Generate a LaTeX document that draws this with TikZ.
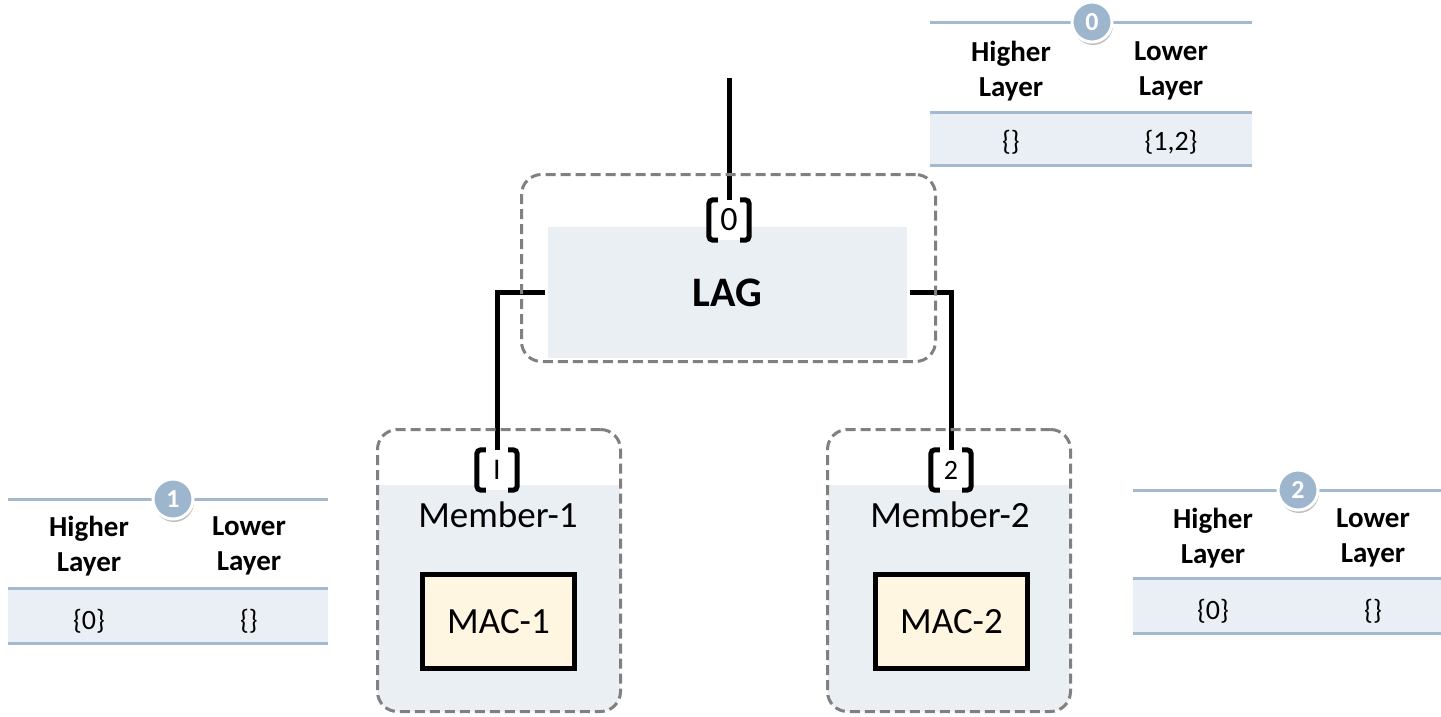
\documentclass[tikz,border=0pt]{standalone}
\usepackage{fontspec}
\setmainfont{Carlito}
\usetikzlibrary{shadows}
\definecolor{tabline}{RGB}{163,185,208}
\definecolor{rowfill}{RGB}{234,239,245}
\definecolor{boxfill}{RGB}{234,239,244}
\definecolor{macfill}{RGB}{255,246,226}
\definecolor{dashgray}{RGB}{128,128,128}
\definecolor{badgefill}{RGB}{157,181,205}
\pgfdeclarelayer{wires}
\pgfsetlayers{wires,main}
\newcommand{\portmarks}[1]{%
  \draw[bracket] ([xshift=9pt]#1.north west) -- (#1.north west) -- (#1.south west) -- ([xshift=9pt]#1.south west);
  \draw[bracket] ([xshift=-9pt]#1.north east) -- (#1.north east) -- (#1.south east) -- ([xshift=-9pt]#1.south east);}
\begin{document}
\begin{tikzpicture}[x=1pt,y=-1pt,
  grp/.style={draw=dashgray, line width=3pt, dash pattern=on 10pt off 5pt,
    rounded corners=20pt, inner sep=0, minimum width=#1},
  shaded/.style={path picture={\fill[boxfill, sharp corners]
    (path picture bounding box.south west) rectangle
    ([yshift=226.5pt]path picture bounding box.south east);}},
  lagarea/.style={fill=boxfill, inner sep=0, minimum width=359pt, minimum height=131pt,
    font=\bfseries\fontsize{42}{48}\selectfont},
  mac/.style={draw=black, line width=5pt, fill=macfill, inner sep=0,
    minimum width=152pt, minimum height=94pt, font=\fontsize{37}{42}\selectfont},
  memlbl/.style={anchor=base, inner sep=0, font=\fontsize{37}{42}\selectfont},
  wire/.style={line width=5pt},
  port/.style={fill=white, inner sep=0, minimum width=40pt, minimum height=40pt},
  bracket/.style={line width=5pt, rounded corners=4pt},
  badge/.style={circle, fill=badgefill, draw=white, line width=3pt, minimum size=40pt,
    inner sep=0, text=white, font=\bfseries\fontsize{26}{26}\selectfont,
    drop shadow={shadow xshift=1pt, shadow yshift=-3pt, opacity=0.25, fill=black}},
  tline/.style={draw=tabline, line width=3pt},
  hdr/.style={align=center, inner sep=0, font=\bfseries\fontsize{29}{35}\selectfont},
  val/.style={inner sep=0, font=\fontsize{28}{30}\selectfont}]
\useasboundingbox (0,0) rectangle (1441,716);

% ---- LAG group ----
\node[grp=414pt, minimum height=187pt] (laggrp) at (728.5,268) {};
\node[lagarea] (lag) at (727.5,292.5) {LAG};

% ---- member groups: dashed frame, lower part shaded ----
\node[grp=243pt, minimum height=282pt, shaded] (m1grp) at (499,570.5) {};
\node[grp=243pt, minimum height=282pt, shaded] (m2grp) at (949,570.5) {};
\node[memlbl] (m1lbl) at (498,527) {Member-1};
\node[memlbl] (m2lbl) at (950,527) {Member-2};
\node[mac] (mac1) at (498.5,621.5) {MAC-1};
\node[mac] (mac2) at (951.5,621.5) {MAC-2};

% ---- ports ----
\node[port, font=\fontsize{34}{34}\selectfont] (p0) at (729,220) {0};
\node[port, font=\fontsize{30}{30}\selectfont] (p1) at (497,470) {I};
\node[port, font=\fontsize{28}{28}\selectfont] (p2) at (951,470) {2};
\portmarks{p0}
\portmarks{p1}
\portmarks{p2}

% ---- connectors ----
\coordinate (feed) at (729,78);
\begin{pgfonlayer}{wires}
\draw[wire] (feed) -- (p0.north);
\draw[wire, shorten <=3pt] (lag.west) -| (p1.north);
\draw[wire, shorten <=3pt] (lag.east) -| (p2.north);
\end{pgfonlayer}

% ---- table 0 ----
\fill[rowfill] (930,112) rectangle (1252,165);
\draw[tline] (930,22) -- (1252,22);
\draw[tline] (930,112) -- (1252,112);
\draw[tline] (930,165) -- (1252,165);
\node[badge] (b0) at (1092,22) {0};
\node[hdr] (t0h) at (1011,71) {Higher\\Layer};
\node[hdr] (t0l) at (1171,71) {Lower\\Layer};
\node[val] (t0hv) at (1011,142) {\{\}};
\node[val] (t0lv) at (1171,142) {\{1,2\}};

% ---- table 1 ----
\fill[rowfill] (8,588) rectangle (328,643);
\draw[tline] (8,499) -- (328,499);
\draw[tline] (8,588) -- (328,588);
\draw[tline] (8,643) -- (328,643);
\node[badge] (b1) at (173,499) {1};
\node[hdr] (t1h) at (89,546) {Higher\\Layer};
\node[hdr] (t1l) at (249,546) {Lower\\Layer};
\node[val] (t1hv) at (89,621) {\{0\}};
\node[val] (t1lv) at (249,621) {\{\}};

% ---- table 2 ----
\fill[rowfill] (1133,578) rectangle (1441,633);
\draw[tline] (1133,490) -- (1441,490);
\draw[tline] (1133,578) -- (1441,578);
\draw[tline] (1133,633) -- (1441,633);
\node[badge] (b2) at (1298,490) {2};
\node[hdr] (t2h) at (1213,538) {Higher\\Layer};
\node[hdr] (t2l) at (1373,538) {Lower\\Layer};
\node[val] (t2hv) at (1213,611) {\{0\}};
\node[val] (t2lv) at (1373,611) {\{\}};
\end{tikzpicture}
\end{document}
